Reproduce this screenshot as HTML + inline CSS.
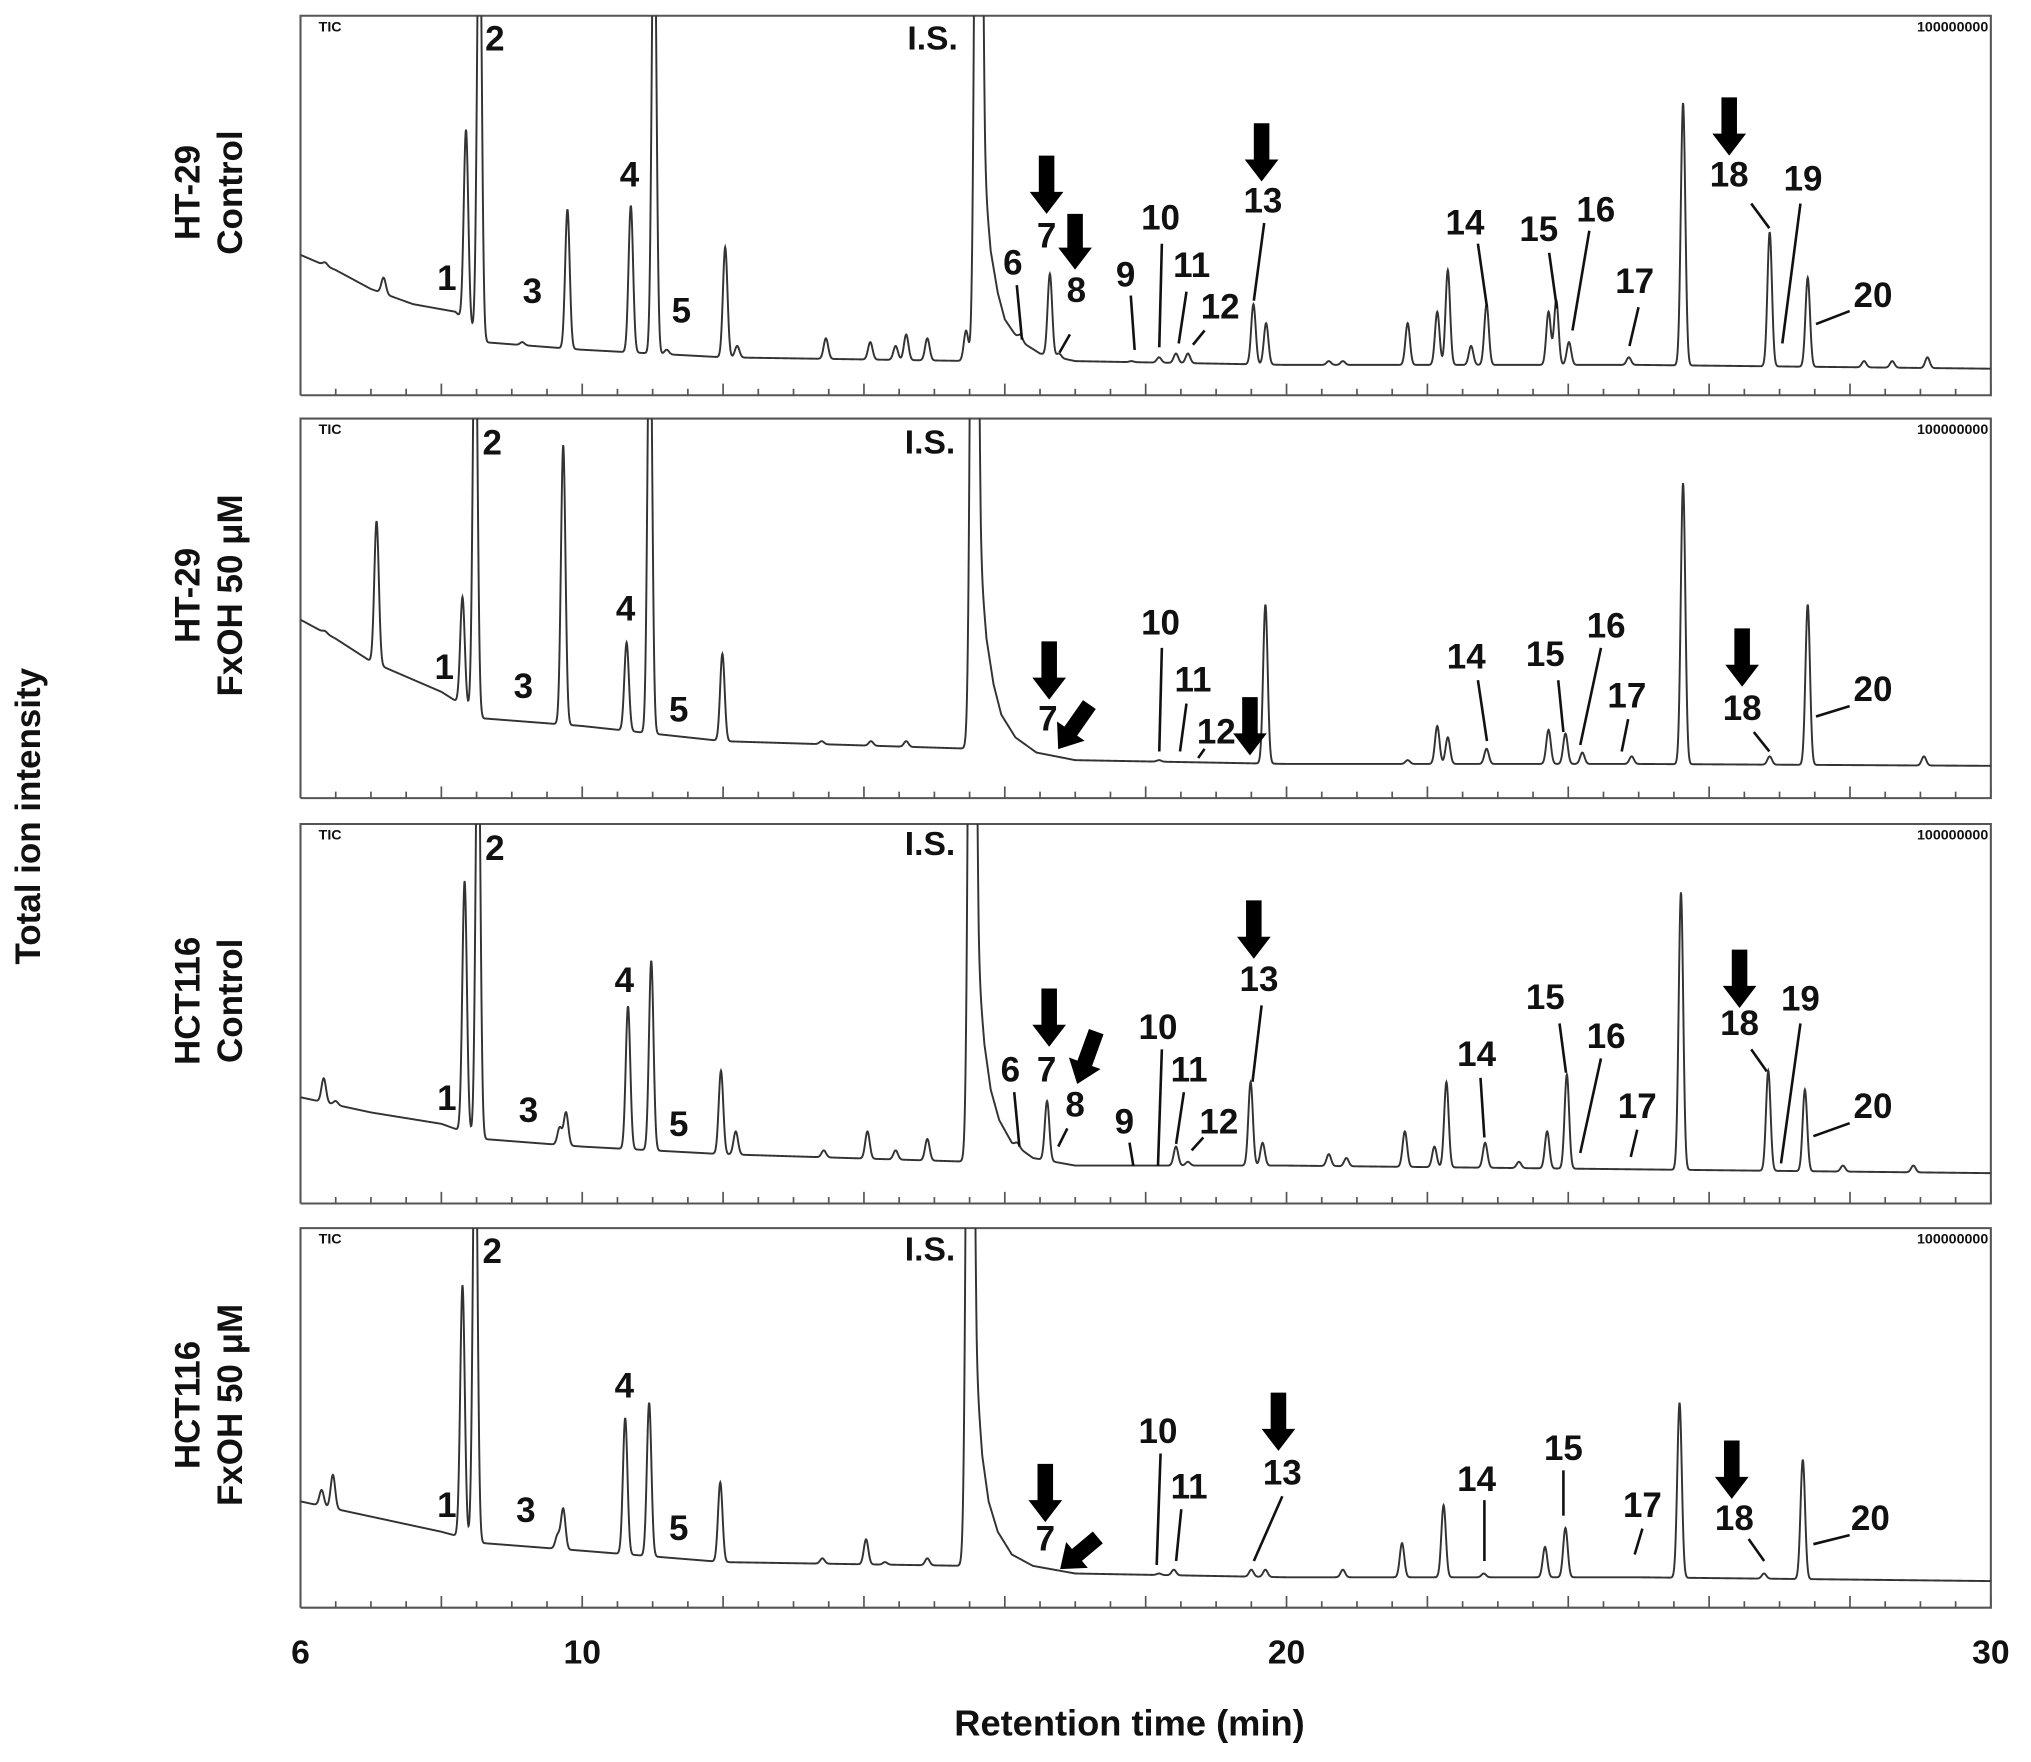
<!DOCTYPE html>
<html><head><meta charset="utf-8"><style>
html,body{margin:0;padding:0;background:#fff}
svg{display:block}
text{font-family:"Liberation Sans",sans-serif;font-weight:bold;fill:#111}
</style></head><body>
<svg id="chart" width="2031" height="1762" viewBox="0 0 1568 1360" xmlns="http://www.w3.org/2000/svg">
<text x="22" y="630" font-size="27" text-anchor="middle" transform="rotate(-90 22 630)" dominant-baseline="central">Total ion intensity</text>
<text x="872" y="1330" font-size="28" text-anchor="middle" dominant-baseline="central">Retention time (min)</text>
<g id="panels"></g>
</svg>
<script>
const NS="http://www.w3.org/2000/svg";
const xTicks=[6,10,20,30];
const panelNames=[["HT-29","Control"],["HT-29","FxOH 50 μM"],["HCT116","Control"],["HCT116","FxOH 50 μM"]];
// baselines: [time, level]
const base1=[[6,0.37],[6.5,0.33],[7,0.28],[7.6,0.24],[8.2,0.22],[8.6,0.14],[10,0.12],[12,0.1],[15.6,0.09],[15.67,0.8],[15.72,0.55],[15.8,0.38],[15.9,0.27],[16.0,0.2],[16.2,0.145],[16.5,0.11],[17,0.09],[20,0.08],[25,0.08],[30,0.07]];
const base2=[[6,0.47],[6.5,0.42],[7,0.36],[8,0.28],[8.6,0.21],[10,0.19],[12,0.15],[15.54,0.13],[15.61,0.9],[15.66,0.6],[15.74,0.42],[15.84,0.3],[15.95,0.22],[16.15,0.16],[16.45,0.12],[17,0.1],[20,0.09],[25,0.09],[30,0.085]];
const base3=[[6,0.28],[7,0.24],[8,0.21],[8.6,0.17],[10,0.15],[12,0.13],[15.51,0.11],[15.58,0.9],[15.63,0.6],[15.71,0.42],[15.8,0.3],[15.92,0.22],[16.1,0.16],[16.4,0.12],[17,0.1],[20,0.1],[25,0.09],[30,0.08]];
const base4=[[6,0.28],[7,0.24],[8,0.2],[8.6,0.17],[10,0.15],[12,0.12],[15.48,0.11],[15.55,0.9],[15.6,0.6],[15.68,0.4],[15.77,0.28],[15.9,0.2],[16.1,0.14],[16.4,0.11],[17,0.09],[20,0.08],[25,0.08],[30,0.07]];
// peaks: [time, absolute level]
const peaks1=[[6.35,0.35],[7.18,0.31],[8.35,0.70],[8.54,1.4],[9.15,0.14],[9.79,0.49],[10.69,0.50],[11.02,1.4],[11.2,0.12],[12.03,0.39],[12.2,0.13],[13.46,0.15],[14.09,0.14],[14.45,0.13],[14.6,0.16],[14.9,0.15],[15.45,0.17],[15.62,3],[16.22,0.16],[16.64,0.32],[16.77,0.11],[17.8,0.09],[18.19,0.10],[18.43,0.11],[18.6,0.11],[19.53,0.24],[19.71,0.19],[20.6,0.09],[20.8,0.09],[21.72,0.19],[22.14,0.22],[22.29,0.33],[22.62,0.13],[22.84,0.24],[23.72,0.22],[23.83,0.25],[24.01,0.14],[24.86,0.1],[25.63,0.77],[26.86,0.43],[27.4,0.31],[28.2,0.09],[28.6,0.09],[29.1,0.1]];
const peaks2=[[6.35,0.44],[7.08,0.73],[8.3,0.53],[8.48,1.4],[9.73,0.93],[10.63,0.41],[10.96,1.4],[11.99,0.38],[13.4,0.15],[14.1,0.15],[14.6,0.15],[15.56,3],[16.62,0.11],[18.19,0.1],[19.7,0.51],[21.72,0.1],[22.14,0.19],[22.29,0.16],[22.84,0.13],[23.72,0.18],[23.96,0.17],[24.2,0.12],[24.9,0.11],[25.63,0.83],[26.86,0.11],[27.4,0.51],[29.05,0.11]];
const peaks3=[[6.33,0.33],[6.5,0.27],[8.33,0.85],[8.52,1.4],[9.68,0.2],[9.77,0.24],[10.65,0.52],[10.98,0.64],[11.97,0.35],[12.18,0.19],[13.43,0.14],[14.05,0.19],[14.45,0.14],[14.9,0.17],[15.53,3],[16.18,0.16],[16.6,0.27],[17.8,0.1],[18.19,0.1],[18.43,0.15],[18.6,0.11],[19.49,0.32],[19.66,0.16],[20.6,0.13],[20.85,0.12],[21.68,0.19],[22.1,0.15],[22.27,0.32],[22.82,0.16],[23.3,0.11],[23.7,0.19],[23.98,0.34],[25.6,0.82],[26.84,0.35],[27.36,0.3],[27.9,0.1],[28.9,0.1]];
const peaks4=[[6.3,0.31],[6.46,0.35],[8.3,0.85],[8.48,1.4],[9.65,0.19],[9.73,0.26],[10.61,0.5],[10.95,0.54],[11.96,0.33],[13.41,0.13],[14.03,0.18],[14.3,0.12],[14.9,0.13],[15.5,3],[16.6,0.1],[18.19,0.09],[18.4,0.1],[19.5,0.1],[19.7,0.1],[20.8,0.1],[21.64,0.17],[22.23,0.27],[22.8,0.09],[23.67,0.16],[23.96,0.21],[25.58,0.54],[26.78,0.09],[27.33,0.39]];
const bases=[base1,base2,base3,base4];
const peakSets=[peaks1,peaks2,peaks3,peaks4];
const panelTops=[12,323,636,948];
const panelH=293;
const X0=232,X1=1537,T0=6,T1=30;
function xs(t){return X0+(t-T0)/(T1-T0)*(X1-X0);}
function ys(p,v){return panelTops[p]+(1-v)*panelH;}
function baseAt(b,t){for(let i=0;i<b.length-1;i++){if(t>=b[i][0]&&t<=b[i+1][0]){const f=(t-b[i][0])/(b[i+1][0]-b[i][0]);return b[i][1]+f*(b[i+1][1]-b[i][1]);}}return b[b.length-1][1];}
const labels=[
[["1",345,215],["2",382,30],["3",411,225],["4",486,135],["5",526,240],["I.S.",720,30],["6",782,203],["7",808,182],["8",831,224],["9",869,212],["10",896,168],["11",920,205],["12",942,237],["13",975,155],["14",1131,172],["15",1188,177],["16",1232,162],["17",1262,217],["18",1335,135],["19",1392,138],["20",1446,228]],
[["1",343,515],["2",380,342],["3",404,530],["4",483,470],["5",524,548],["I.S.",718,342],["7",809,555],["10",896,481],["11",921,525],["12",939,565],["14",1132,507],["15",1193,505],["16",1240,483],["17",1256,537],["18",1345,547],["20",1446,532]],
[["1",345,848],["2",382,655],["3",408,857],["4",482,757],["5",524,868],["I.S.",718,652],["6",780,826],["7",808,826],["8",830,853],["9",868,866],["10",894,793],["11",918,826],["12",941,866],["13",972,756],["14",1140,814],["15",1193,770],["16",1240,800],["17",1264,854],["18",1343,790],["19",1390,771],["20",1446,854]],
[["1",345,1162],["2",380,966],["3",406,1166],["4",482,1070],["5",524,1180],["I.S.",718,965],["7",807,1188],["10",894,1105],["11",918,1148],["13",990,1137],["14",1140,1142],["15",1207,1118],["17",1268,1162],["18",1339,1172],["20",1444,1172]]];
const leaders=[
[[785,220,789,262],[826,258,818,272],[873,228,876,270],[897,188,895,268],[916,225,910,265],[930,255,921,266],[976,172,968,232],[1141,188,1148,237],[1196,195,1202,238],[1227,178,1214,255],[1265,237,1258,267],[1352,157,1366,176],[1390,157,1376,265],[1428,240,1402,250]],
[[897,500,895,580],[916,543,911,580],[930,578,925,585],[1141,525,1148,572],[1203,525,1207,565],[1236,500,1220,575],[1257,555,1252,580],[1354,565,1366,580],[1428,545,1402,553]],
[[783,843,787,885],[824,871,817,885],[872,882,875,900],[897,810,894,900],[914,843,908,883],[929,878,920,888],[974,776,967,835],[1143,832,1146,878],[1204,790,1209,828],[1236,817,1220,890],[1264,872,1259,893],[1352,810,1364,827],[1390,790,1375,898],[1428,867,1400,877]],
[[896,1122,893,1208],[912,1165,908,1205],[990,1155,968,1205],[1146,1158,1146,1205],[1207,1135,1207,1170],[1268,1180,1262,1200],[1350,1188,1362,1205],[1428,1185,1400,1192]]];
const arrows=[
[[808,120,165,0],[830,165,208,0],[974,95,140,0],[1335,75,120,0]],
[[810,495,540,0],[829,540,582,35],[965,538,583,0],[1345,485,530,0]],
[[810,763,808,0],[839,795,838,20],[968,695,740,0],[1343,733,778,0]],
[[807,1130,1175,0],[833,1180,1218,50],[987,1075,1120,0],[1337,1112,1157,0]]];

const root=document.getElementById('panels');
function mk(tag,attrs,parent){const e=document.createElementNS(NS,tag);for(const k in attrs)e.setAttribute(k,attrs[k]);(parent||root).appendChild(e);return e;}
const defs=mk('defs',{});
for(let p=0;p<4;p++){
  const g=mk('g',{});
  
  
  const top=panelTops[p],bot=top+panelH;
  const cp=mk('clipPath',{id:'cp'+p},defs);
  mk('rect',{x:X0,y:top,width:X1-X0,height:panelH},cp);
  const frame=mk('path',{d:`M${X0},${bot} L${X0},${top} L${X1},${top} L${X1},${bot} L${X0},${bot}`,fill:'none',stroke:'#555','stroke-width':1.6},g);
  
  
  for(let t=T0;t<=T1+1e-6;t+=0.5){
    const major=Math.abs(t/2-Math.round(t/2))<1e-6;
    const tk=mk('line',{x1:xs(t),x2:xs(t),y1:bot,y2:bot-(major?9:5),stroke:'#555','stroke-width':1.3},g);
    
    
  }
  const b=bases[p],pk=peakSets[p];
  const pts=[];
  for(let i=0;i<=4800;i++){
    const t=T0+i*(T1-T0)/4800;
    let v=baseAt(b,t);
    for(const q of pk){const h=Math.max(0,q[1]-baseAt(b,q[0]));const s=q[1]>2?0.04:0.032;const d=(t-q[0])/s;if(Math.abs(d)<6)v+=h*Math.exp(-0.5*d*d);}
    pts.push(xs(t).toFixed(2)+','+ys(p,v).toFixed(2));
  }
  const tr=mk('polyline',{points:pts.join(' '),fill:'none',stroke:'#333','stroke-width':1.5,'clip-path':'url(#cp'+p+')'},g);
  
  
  const tic=mk('text',{x:246,y:top+12,'font-size':11,'font-family':'Liberation Serif'},g);
  tic.textContent='TIC';
  
  
  const sc=mk('text',{x:1535,y:top+12,'font-size':11,'text-anchor':'end','font-family':'Liberation Serif'},g);
  sc.textContent='100000000';
  
  
  const cy=top+panelH/2-10;
  const n1=mk('text',{x:145,y:cy,'font-size':27,'text-anchor':'middle','dominant-baseline':'central',transform:`rotate(-90 145 ${cy})`},g);
  n1.textContent=panelNames[p][0];
  
  
  const n2=mk('text',{x:178,y:cy,'font-size':27,'text-anchor':'middle','dominant-baseline':'central',transform:`rotate(-90 178 ${cy})`},g);
  n2.textContent=panelNames[p][1];
  
  
  for(const l of labels[p]){
    const e=mk('text',{x:l[1],y:l[2],'font-size':l[0]==='I.S.'?26:27,'text-anchor':'middle','dominant-baseline':'central'},g);
    e.textContent=l[0];
    
    
  }
  for(const l of leaders[p]){
    const e=mk('line',{x1:l[0],y1:l[1],x2:l[2],y2:l[3],stroke:'#111','stroke-width':2},g);
    
    
  }
  for(const a of arrows[p]){
    const L=a[2]-a[1];
    const d=`M${-6},0 L6,0 L6,${L-17} L13,${L-17} L0,${L} L-13,${L-17} L-6,${L-17} Z`;
    const e=mk('path',{d:d,fill:'#000',transform:`translate(${a[0]},${a[1]}) rotate(${a[3]} 0 ${L/2})`},g);
    
    
  }
}
for(const t of xTicks){
  const e=mk('text',{x:xs(t),y:1276,'font-size':26,'text-anchor':'middle','dominant-baseline':'central'});
  e.textContent=String(t);
  
  
}
</script>
</body></html>
